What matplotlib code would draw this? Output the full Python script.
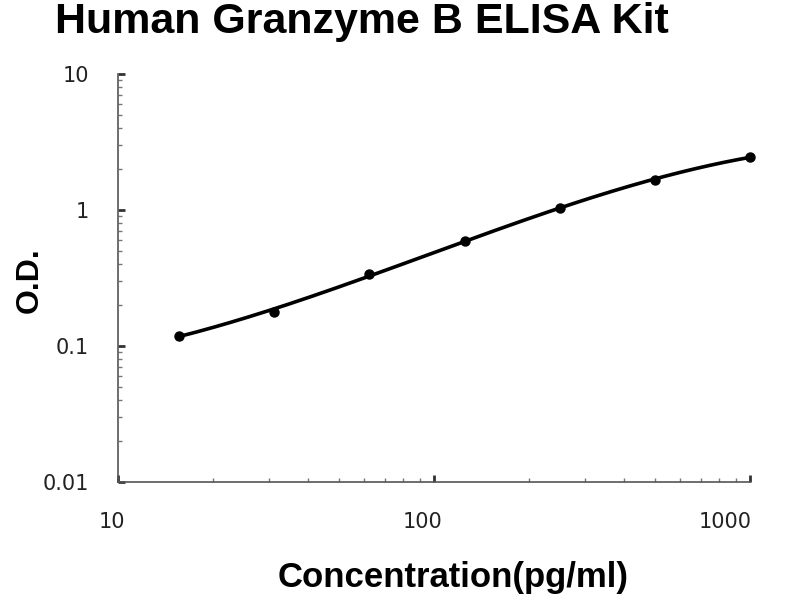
import numpy as np
import matplotlib.pyplot as plt
from matplotlib.ticker import LogLocator, FixedLocator, NullFormatter
from matplotlib.transforms import ScaledTranslation

# Standard curve data
conc = [15.625, 31.25, 62.5, 125, 250, 500, 1000]
od = [0.119, 0.178, 0.340, 0.585, 1.03, 1.66, 2.45]

xticks = [10, 100, 1000]
xticklabels = ['10', '100', '1000']
yticks = [0.01, 0.1, 1, 10]
yticklabels = ['0.01', '0.1', '1', '10']

fig = plt.figure(figsize=(8, 6), dpi=100)
ax = fig.add_axes([0.1475, 0.197, 0.79, 0.68])

# smooth fitted curve through the points (cubic in log-log space)
lx = np.log10(conc)
ly = np.log10(od)
coef = np.polyfit(lx, ly, 3)
xs = np.linspace(lx[0], lx[-1], 200)
ax.plot(10 ** xs, 10 ** np.polyval(coef, xs), color='black', lw=2.6)
ax.plot(conc, od, 'o', color='black', ms=6.5, clip_on=False)

ax.set_xscale('log')
ax.set_yscale('log')
ax.set_xlim(10, 1000)
ax.set_ylim(0.01, 10)

ax.xaxis.set_major_locator(FixedLocator(xticks))
ax.set_xticklabels(xticklabels)
ax.yaxis.set_major_locator(FixedLocator(yticks))
ax.set_yticklabels(yticklabels)
ax.xaxis.set_minor_locator(LogLocator(base=10, subs=np.arange(2, 10)))
ax.yaxis.set_minor_locator(LogLocator(base=10, subs=np.arange(2, 10)))
ax.xaxis.set_minor_formatter(NullFormatter())
ax.yaxis.set_minor_formatter(NullFormatter())

for s in ['top', 'right']:
    ax.spines[s].set_visible(False)
for s in ['left', 'bottom']:
    ax.spines[s].set_color('#555555')
    ax.spines[s].set_linewidth(1.2)

ax.tick_params(which='major', direction='in', length=5, width=2, color='#333333',
               labelsize=15, labelcolor='#222222')
ax.tick_params(which='minor', direction='in', length=3, width=1, color='#777777')
ax.tick_params(axis='x', which='major', pad=22)
ax.tick_params(axis='y', which='major', pad=21)
for lab in ax.get_xticklabels() + ax.get_yticklabels():
    lab.set_family('DejaVu Sans')

# the x tick labels in the original sit a little left of their ticks
shifts = [-6, -11, -25]
for lab, dx in zip(ax.get_xticklabels(), shifts):
    lab.set_transform(lab.get_transform() + ScaledTranslation(dx / 100, 0, fig.dpi_scale_trans))

fig.text(0.4525, 1 - 33 / 600, 'Human Granzyme B ELISA Kit', ha='center', va='baseline',
         fontsize=31, fontweight='bold', family='Liberation Sans')
fig.text(0.566, 0.037, 'Concentration(pg/ml)', ha='center', va='center',
         fontsize=25, fontweight='bold', family='Liberation Sans')
fig.text(0.0375, 0.533, 'O.D.', ha='center', va='center', rotation=90,
         fontsize=23, fontweight='bold', family='Liberation Sans')

fig.savefig('out.png', dpi=100)
